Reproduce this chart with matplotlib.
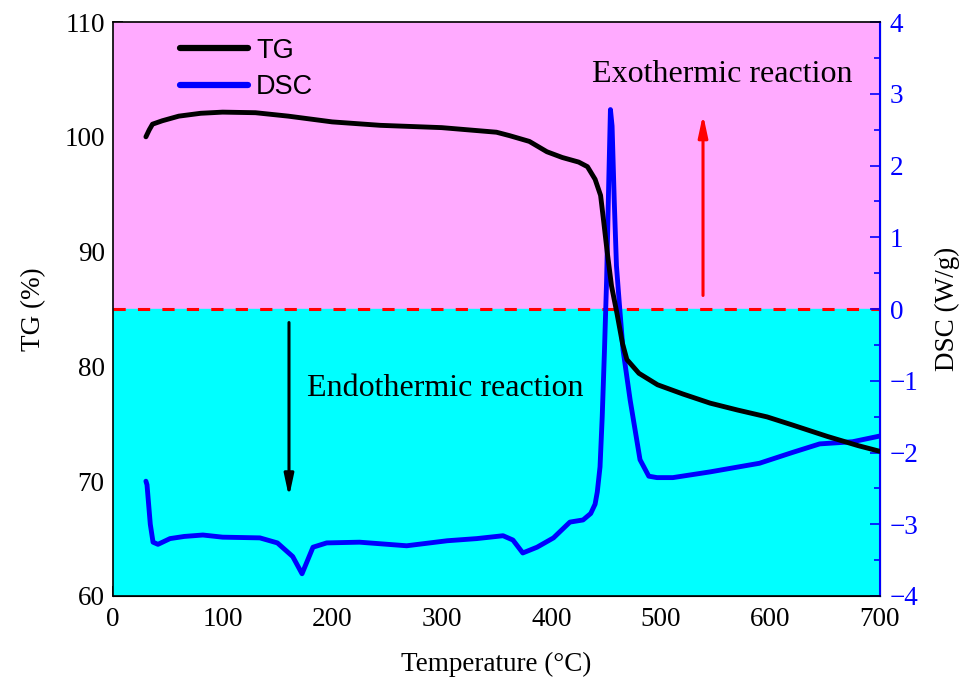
import matplotlib
matplotlib.use('Agg')
import matplotlib.pyplot as plt
from matplotlib.ticker import MultipleLocator
from matplotlib.lines import Line2D

plt.rcParams['font.family'] = ['Liberation Serif', 'DejaVu Serif']
plt.rcParams['axes.unicode_minus'] = True

# TG curve (temperature in C, mass %)
tg_t = [30, 33, 36, 45, 60, 80, 100, 130, 160, 200, 244, 300, 350, 362, 380, 396, 410, 425,
        433, 440, 445, 448, 451, 455, 460, 465, 469, 480, 497, 520, 545, 570, 597, 620, 652, 680, 700]
tg_v = [100.0, 100.6, 101.1, 101.4, 101.8, 102.05, 102.15, 102.1, 101.8, 101.3, 101.0, 100.8, 100.4,
        100.1, 99.6, 98.7, 98.2, 97.8, 97.4, 96.3, 94.9, 92.5, 90.0, 87.0, 84.6, 82.0, 80.6, 79.4, 78.4,
        77.6, 76.8, 76.2, 75.6, 74.9, 73.9, 73.1, 72.6]

# DSC curve (temperature in C, W/g)
dsc_t = [30, 31, 34, 36.5, 41, 52, 65, 82, 100, 134, 150, 164, 172.5, 182.5, 195, 225, 268, 305, 332,
         356, 365, 374, 387, 402, 417, 429, 436, 440, 442, 444.5, 446.5, 448.5, 450.5, 452.5, 454,
         455.5, 457.5, 459.5, 462, 465.5, 472, 481, 489, 496.5, 511, 545, 590, 620, 645, 675, 700]
dsc_v = [-2.40, -2.45, -3.0, -3.25, -3.28, -3.2, -3.17, -3.15, -3.18, -3.19, -3.26, -3.45, -3.69,
         -3.32, -3.26, -3.25, -3.3, -3.23, -3.2, -3.16, -3.22, -3.4, -3.32, -3.19, -2.97, -2.94,
         -2.85, -2.72, -2.55, -2.2, -1.5, -0.6, 0.4, 1.8, 2.78, 2.55, 1.5, 0.6, 0.1, -0.57, -1.27,
         -2.1, -2.33, -2.35, -2.35, -2.27, -2.15, -2.0, -1.88, -1.85, -1.77]

fig = plt.figure(figsize=(9.72, 6.86), dpi=100)
ax = fig.add_axes([0.1163, 0.1312, 0.7890, 0.8367])
ax2 = ax.twinx()

ax2.set_xlim(0, 700)
ax2.set_ylim(-4, 4)
ax2.axhspan(0, 4, color='#FFAAFF', zorder=0)
ax2.axhspan(-4, 0, color='#00FFFF', zorder=0)
ax2.axhline(0, color='red', lw=2.2, ls=(0, (4, 4)), zorder=1)

ax.set_zorder(ax2.get_zorder() - 1)
ax2.patch.set_visible(False)

ax2.plot(dsc_t, dsc_v, color='#0000FF', lw=3.5, zorder=3, solid_capstyle='round')
# TG mapped onto the right-axis scale so it sits above the shading
tg_on_right = [(v - 85) * 8 / 50 for v in tg_v]
ax2.plot(tg_t, tg_on_right, color='black', lw=3.5, zorder=4, solid_capstyle='round')

ax.set_xlim(0, 700)
ax.set_ylim(60, 110)
ax.xaxis.set_major_locator(MultipleLocator(100))
ax.xaxis.set_minor_locator(MultipleLocator(50))
ax.yaxis.set_major_locator(MultipleLocator(10))
ax.yaxis.set_minor_locator(MultipleLocator(5))
ax2.yaxis.set_major_locator(MultipleLocator(1))
ax2.yaxis.set_minor_locator(MultipleLocator(0.5))

ax.tick_params(which='both', direction='in', labelsize=19.5, pad=6)
ax.tick_params(axis='x', pad=8)
ax.tick_params(which='major', length=7, width=1.2)
ax.tick_params(which='minor', length=4, width=1.2)
ax2.tick_params(which='both', direction='in', colors='#0000FF', labelsize=19.5, pad=7)
ax2.tick_params(which='major', length=7, width=1.2)
ax2.tick_params(which='minor', length=4, width=1.2)

for s in ['left', 'top', 'bottom']:
    ax2.spines[s].set_color('black')
    ax2.spines[s].set_linewidth(1.2)
ax2.spines['right'].set_color('#0000FF')
ax2.spines['right'].set_linewidth(1.5)

ax.set_xlabel('Temperature (\u00b0C)', fontsize=19.5, labelpad=14)
ax.set_ylabel('TG (%)', fontsize=19.5, labelpad=13)
ax2.set_ylabel('DSC (W/g)', fontsize=19.5, color='black', labelpad=12)

ax2.text(556, 3.27, 'Exothermic reaction', fontsize=23, ha='center', va='center')
ax2.text(303, -1.11, 'Endothermic reaction', fontsize=23, ha='center', va='center')

ax2.annotate('', xy=(538.5, 2.75), xytext=(538.5, 0.15),
             arrowprops=dict(arrowstyle='-|>,head_width=0.28,head_length=1.3', color='red', lw=2.2))
ax2.annotate('', xy=(160.6, -2.66), xytext=(160.6, -0.15),
             arrowprops=dict(arrowstyle='-|>,head_width=0.28,head_length=1.3', color='black', lw=2.2))

handles = [Line2D([], [], color='black', lw=4.5, solid_capstyle='round'),
           Line2D([], [], color='#0000FF', lw=4.5, solid_capstyle='round')]
ax2.legend(handles, ['TG', 'DSC'], loc='upper left', bbox_to_anchor=(0.056, 1.015),
           frameon=False, prop={'family': 'Liberation Sans', 'size': 19.5},
           handlelength=2.5, handletextpad=0.3, labelspacing=0.38)

fig.savefig('out.png', dpi=100)
